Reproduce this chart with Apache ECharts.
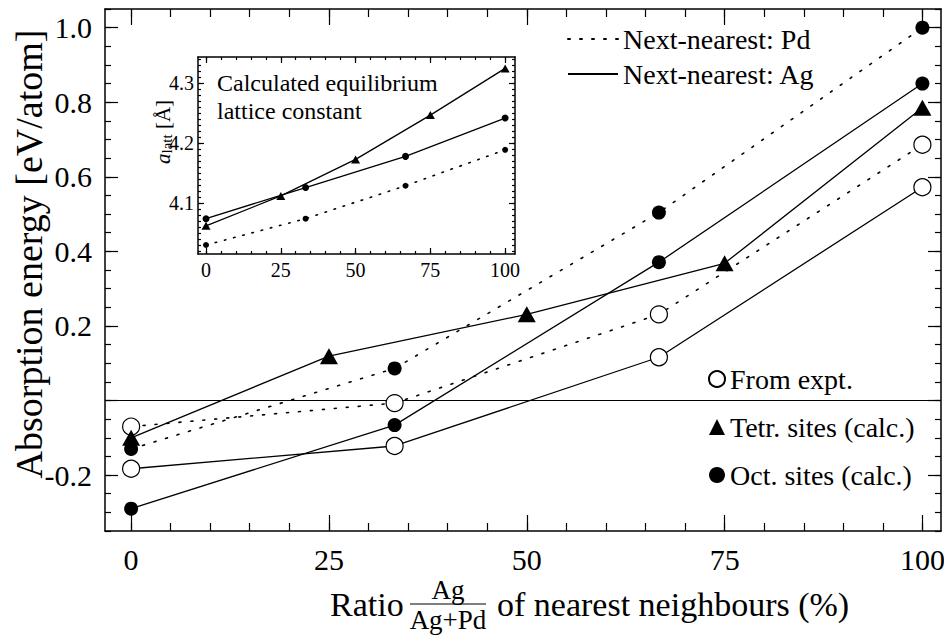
<!DOCTYPE html>
<html><head><meta charset="utf-8">
<script src="https://cdn.jsdelivr.net/npm/echarts@6/dist/echarts.min.js"></script>
<style>html,body{margin:0;padding:0;background:#fff}#c{width:944px;height:635px}</style>
</head><body><div id="c"></div>
<script>
// ---- data ----
const ratio3 = [0, 33.3, 66.7, 100];
const ratio5 = [0, 25, 50, 75, 100];
const exptPd = [-0.070, -0.007, 0.231, 0.686];
const exptAg = [-0.183, -0.122, 0.116, 0.572];
const tetrAg = [-0.100, 0.119, 0.231, 0.368, 0.785];
const octPd  = [-0.130, 0.086, 0.504, 1.000];
const octAg  = [-0.290, -0.066, 0.371, 0.850];
const insetTetrAg = [4.062, 4.112, 4.173, 4.247, 4.325];
const insetOctAg  = [4.074, 4.126, 4.178, 4.242];
const insetOctPd  = [4.030, 4.074, 4.129, 4.189];
const mainYLabels = ['-0.2', '0.2', '0.4', '0.6', '0.8', '1.0'];
const insetYLabels = ['4.1', '4.2', '4.3'];

const FONT = 'Liberation Serif, Times New Roman, serif';
const pts = (xs, ys) => xs.map((x, i) => [x, ys[i]]);
const BLK = '#000';

const noAxis = (gi) => ({ gridIndex: gi, type: 'value', show: false, min: 0, max: 1 });
function tickAxis(gi, pos, min, max, interval, len, extra) {
  return Object.assign({
    gridIndex: gi, type: 'value', position: pos, min: min, max: max, interval: interval,
    axisLine: { show: false }, splitLine: { show: false },
    axisTick: { show: true, inside: true, length: len, lineStyle: { color: BLK, width: 1.2 } },
    axisLabel: { show: false }
  }, extra || {});
}
function frameAxis(gi, pos, min, max) {
  return {
    gridIndex: gi, type: 'value', position: pos, min: min, max: max,
    axisLine: { show: true, onZero: false, lineStyle: { color: BLK, width: 1.5 } },
    axisTick: { show: false }, axisLabel: { show: false }, splitLine: { show: false }
  };
}
const G = (l, r, t, b) => ({ left: l, right: r, top: t, bottom: b, containLabel: false, outerBoundsMode: 'none' });

const grids = [
  G(105, 3, 9, 104),            // 0 main data
  G(131, 21.5, 9, 104),         // 1 main x minor
  G(131, 21.5, 9, 104),         // 2 main x major
  G(105, 3, 27.6, 159.9),       // 3 main y major ticks
  G(198, 429, 57, 381),         // 4 inset data
  G(206, 439, 57, 381),         // 5 inset x minor
  G(206, 439, 57, 381),         // 6 inset x major
  G(198, 429, 59.4, 384.1),     // 7 inset y minor
  G(198, 429, 83.3, 432),       // 8 inset y major
  G(105, 3, 27.6, 159.9)        // 9 main y labels
];

const mainLabelStyle = { show: true, color: BLK, fontFamily: FONT, fontSize: 30 };
const insetLabelStyle = { show: true, color: BLK, fontFamily: FONT, fontSize: 20 };

const xAxes = [
  frameAxis(0, 'bottom', -3.3, 102.35),                   // 0
  frameAxis(0, 'top', -3.3, 102.35),                      // 1
  tickAxis(1, 'bottom', 0, 100, 5, 8),                    // 2
  tickAxis(1, 'top', 0, 100, 5, 8),                       // 3
  tickAxis(2, 'bottom', 0, 100, 25, 16, { axisLabel: Object.assign({ margin: 13, formatter: v => String(v) }, mainLabelStyle) }), // 4
  tickAxis(2, 'top', 0, 100, 25, 16),                     // 5
  noAxis(3),                                              // 6
  frameAxis(4, 'bottom', -2.68, 103.3),                   // 7
  frameAxis(4, 'top', -2.68, 103.3),                      // 8
  tickAxis(5, 'bottom', 0, 100, 5, 3),                    // 9
  tickAxis(5, 'top', 0, 100, 5, 3),                       // 10
  tickAxis(6, 'bottom', 0, 100, 25, 6, { axisLabel: Object.assign({ margin: 6, formatter: v => String(v) }, insetLabelStyle) }), // 11
  tickAxis(6, 'top', 0, 100, 25, 6),                      // 12
  noAxis(7),                                              // 13
  noAxis(8),                                              // 14
  noAxis(9)                                               // 15
];

const yAxes = [
  Object.assign(frameAxis(0, 'left', -0.35, 1.05), { interval: 0.05, axisTick: { show: true, inside: true, length: 6, lineStyle: { color: BLK, width: 1.2 } } }), // 0
  Object.assign(frameAxis(0, 'right', -0.35, 1.05), { interval: 0.05, axisTick: { show: true, inside: true, length: 6, lineStyle: { color: BLK, width: 1.2 } } }), // 1
  noAxis(1),                                              // 2
  noAxis(2),                                              // 3
  tickAxis(3, 'left', -0.2, 1.0, 0.2, 13),                // 4
  tickAxis(3, 'right', -0.2, 1.0, 0.2, 13),               // 5
  frameAxis(4, 'left', 4.015, 4.344),                     // 6
  frameAxis(4, 'right', 4.015, 4.344),                    // 7
  noAxis(5),                                              // 8
  noAxis(6),                                              // 9
  tickAxis(7, 'left', 4.02, 4.34, 0.01, 3),               // 10
  tickAxis(7, 'right', 4.02, 4.34, 0.01, 3),              // 11
  tickAxis(8, 'left', 4.1, 4.3, 0.1, 6, { axisLabel: Object.assign({ margin: 4, formatter: v => {
      const s = v.toFixed(1); return insetYLabels.indexOf(s) >= 0 ? s : ''; } }, insetLabelStyle) }), // 12
  tickAxis(8, 'right', 4.1, 4.3, 0.1, 6),                 // 13
  {                                                       // 14 main y labels
    gridIndex: 9, type: 'value', position: 'left', offset: 10, min: -0.2, max: 1.0, interval: 0.2,
    axisLine: { show: false }, axisTick: { show: false }, splitLine: { show: false },
    axisLabel: Object.assign({ margin: 3, formatter: v => {
      const s = v.toFixed(1); return mainYLabels.indexOf(s) >= 0 ? s : ''; } }, mainLabelStyle)
  }
];

const dotted = { color: BLK, width: 1.6, type: [2, 10], cap: 'round' };
const solid = { color: BLK, width: 1.3, type: 'solid' };

function mainLine(name, xs, ys, style, extra) {
  return Object.assign({
    type: 'line', name: name, xAxisIndex: 0, yAxisIndex: 0, data: pts(xs, ys),
    symbol: 'none', showSymbol: false, lineStyle: style, itemStyle: { color: BLK }, z: 2, silent: true
  }, extra || {});
}
function insetLine(name, xs, ys, style, sym, size) {
  return {
    type: 'line', name: name, xAxisIndex: 7, yAxisIndex: 6, data: pts(xs, ys),
    symbol: sym, symbolSize: size, showSymbol: true, lineStyle: style,
    itemStyle: { color: BLK, borderWidth: 0, opacity: 1 }, z: 3, silent: true
  };
}

const series = [
  mainLine('Next-nearest: Pd', ratio3, exptPd, dotted),
  mainLine('Next-nearest: Pd', ratio3, octPd, dotted),
  mainLine('Next-nearest: Ag', ratio3, exptAg, solid, {
    markLine: { silent: true, symbol: 'none', label: { show: false },
      lineStyle: { color: BLK, width: 1.2, type: 'solid' }, data: [{ yAxis: 0 }] }
  }),
  mainLine('Next-nearest: Ag', ratio5, tetrAg, solid),
  mainLine('Next-nearest: Ag', ratio3, octAg, solid),
  { type: 'scatter', name: 'From expt.', xAxisIndex: 0, yAxisIndex: 0,
    data: pts(ratio3, exptPd).concat(pts(ratio3, exptAg)), symbol: 'circle', symbolSize: 17,
    itemStyle: { color: '#fff', borderColor: BLK, borderWidth: 1.2, opacity: 1 }, z: 6, silent: true },
  { type: 'scatter', name: 'Tetr. sites (calc.)', xAxisIndex: 0, yAxisIndex: 0,
    data: pts(ratio5, tetrAg), symbol: 'triangle', symbolSize: [18, 16],
    itemStyle: { color: BLK, opacity: 1 }, z: 6, silent: true },
  { type: 'scatter', name: 'Oct. sites (calc.)', xAxisIndex: 0, yAxisIndex: 0,
    data: pts(ratio3, octPd).concat(pts(ratio3, octAg)), symbol: 'circle', symbolSize: 14,
    itemStyle: { color: BLK, opacity: 1 }, z: 6, silent: true },
  insetLine('inset tetr', ratio5, insetTetrAg, { color: BLK, width: 1.3 }, 'triangle', [9, 8]),
  insetLine('inset oct Ag', ratio3, insetOctAg, { color: BLK, width: 1.3 }, 'circle', 7),
  insetLine('inset oct Pd', ratio3, insetOctPd, { color: BLK, width: 1.6, type: [1.5, 8], cap: 'round' }, 'circle', 6)
];

const legendText = { color: BLK, fontFamily: FONT, fontSize: 28 };
const option = {
  animation: false,
  backgroundColor: '#fff',
  grid: grids,
  xAxis: xAxes,
  yAxis: yAxes,
  series: series,
  legend: [
    { orient: 'vertical', left: 562, top: 20, itemWidth: 50, itemHeight: 12, itemGap: 7,
      selectedMode: false, textStyle: legendText,
      itemStyle: { opacity: 0, color: 'transparent', borderWidth: 0 },
      data: ['Next-nearest: Pd', 'Next-nearest: Ag'] },
    { orient: 'vertical', left: 703, top: 360, itemWidth: 16, itemHeight: 16, itemGap: 20,
      selectedMode: false, textStyle: legendText, itemStyle: { opacity: 1 },
      data: ['From expt.', 'Tetr. sites (calc.)', 'Oct. sites (calc.)'] }
  ],
  graphic: [
    { type: 'text', x: 29, y: 254, rotation: Math.PI / 2, silent: true,
      style: { text: 'Absorption energy [eV/atom]', fill: BLK, font: '38px ' + FONT,
        align: 'center', verticalAlign: 'middle' } },
    { type: 'text', left: 217, top: 69, silent: true,
      style: { text: 'Calculated equilibrium\nlattice constant', fill: BLK, font: '24px ' + FONT, lineHeight: 28 } },
    { type: 'text', x: 163, y: 132, rotation: Math.PI / 2, silent: true,
      style: { text: '{i|a}{s|latt} [Å]', fill: BLK, align: 'center', verticalAlign: 'middle',
        rich: { i: { fontFamily: FONT, fontStyle: 'italic', fontSize: 21, fill: BLK },
                s: { fontFamily: FONT, fontSize: 15, fill: BLK, padding: [8, 0, 0, 0] } },
        font: '21px ' + FONT } },
    { type: 'text', x: 330, y: 604, silent: true,
      style: { text: 'Ratio', fill: BLK, font: '34px ' + FONT, verticalAlign: 'middle' } },
    { type: 'text', x: 448, y: 590, silent: true,
      style: { text: 'Ag', fill: BLK, font: '27px ' + FONT, align: 'center', verticalAlign: 'middle' } },
    { type: 'line', silent: true, shape: { x1: 410, y1: 604, x2: 486, y2: 604 }, style: { stroke: BLK, lineWidth: 1.2 } },
    { type: 'text', x: 448, y: 620, silent: true,
      style: { text: 'Ag+Pd', fill: BLK, font: '27px ' + FONT, align: 'center', verticalAlign: 'middle' } },
    { type: 'text', x: 497, y: 604, silent: true,
      style: { text: 'of nearest neighbours (%)', fill: BLK, font: '34px ' + FONT, verticalAlign: 'middle' } }
  ]
};
const chart = echarts.init(document.getElementById('c'), null, { renderer: 'svg' });
chart.setOption(option);
</script>
</body></html>
